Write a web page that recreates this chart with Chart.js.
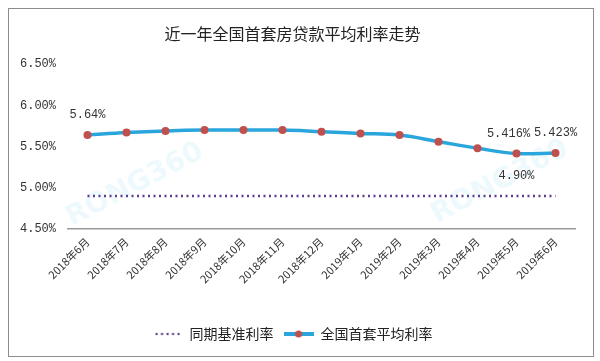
<!DOCTYPE html>
<html>
<head>
<meta charset="utf-8">
<script src="https://cdn.jsdelivr.net/npm/chart.js@4.4.0/dist/chart.umd.min.js"></script>
<style>
  body { margin: 0; background: #fff; }
  #wrap { position: relative; width: 600px; height: 361px; }
  #frame { position: absolute; left: 8px; top: 8px; width: 584px; height: 347px; border: 1px solid #8c8c8c; pointer-events: none; }
</style>
</head>
<body>
<div id="wrap">
  <canvas id="rateChart" width="600" height="361"></canvas>
  <div id="frame"></div>
</div>
<script>
var months = ["2018年6月", "2018年7月", "2018年8月", "2018年9月", "2018年10月", "2018年11月", "2018年12月",
              "2019年1月", "2019年2月", "2019年3月", "2019年4月", "2019年5月", "2019年6月"];
var avgRate = [5.64, 5.67, 5.69, 5.70, 5.70, 5.70, 5.68, 5.66, 5.64, 5.56, 5.48, 5.416, 5.423];
var baseRate = [4.90, 4.90, 4.90, 4.90, 4.90, 4.90, 4.90, 4.90, 4.90, 4.90, 4.90, 4.90, 4.90];
var yTicks = [4.5, 5.0, 5.5, 6.0, 6.5];

// which points get a value label: [dataset index, point index, text]
var valueLabels = [
    [1, 0, "5.64%"],
    [1, 11, "5.416%"],
    [1, 12, "5.423%"],
    [0, 11, "4.90%"]
];

var numFont = "'Liberation Mono', monospace";
var cjkFont = "'Noto Sans CJK SC', sans-serif";

// small legend markers
function makeMarker(kind) {
    var c = document.createElement('canvas');
    c.width = 30; c.height = 10;
    var g = c.getContext('2d');
    if (kind == 'dots') {
        g.fillStyle = '#5a3f8e';
        for (var i = 0; i < 5; i++) {
            g.beginPath();
            g.arc(4 + i * 5.5, 5, 1.2, 0, Math.PI * 2);
            g.fill();
        }
    } else {
        g.strokeStyle = '#2aa6dc';
        g.lineWidth = 4;
        g.beginPath(); g.moveTo(0, 5); g.lineTo(30, 5); g.stroke();
        g.fillStyle = '#c0504d';
        g.beginPath(); g.arc(15, 5, 3.5, 0, Math.PI * 2); g.fill();
    }
    return c;
}
var markers = [makeMarker('dots'), makeMarker('line')];

var extras = {
    id: 'extras',
    beforeDatasetsDraw: function (chart) {
        var ctx = chart.ctx;
        ctx.save();
        ctx.fillStyle = 'rgba(150, 215, 240, 0.16)';
        ctx.font = "bold 28px 'DejaVu Sans', sans-serif";
        ctx.textAlign = 'center';
        ctx.textBaseline = 'middle';
        [[135, 185], [500, 182]].forEach(function (p) {
            ctx.save();
            ctx.translate(p[0], p[1]);
            ctx.rotate(-0.48);
            ctx.fillText("RONG360", 0, 0);
            ctx.restore();
        });
        ctx.restore();
    },
    afterDatasetsDraw: function (chart) {
        var ctx = chart.ctx;
        ctx.save();
        ctx.fillStyle = '#333';
        ctx.font = "12px " + numFont;
        ctx.textAlign = 'center';
        ctx.textBaseline = 'middle';
        valueLabels.forEach(function (v) {
            var pt = chart.getDatasetMeta(v[0]).data[v[1]];
            // the two close labels at the end sit side by side
            var dx = (v[0] == 1 && v[1] == 11) ? -8 : 0;
            ctx.fillText(v[2], pt.x + dx, pt.y - 20);
        });
        ctx.restore();
    }
};

var ctx = document.getElementById('rateChart').getContext('2d');

var rateChart = new Chart(ctx, {
    type: 'line',
    data: {
        labels: months,
        datasets: [{
            label: '同期基准利率',
            data: baseRate,
            borderColor: '#5a3f8e',
            borderWidth: 2.5,
            borderDash: [2, 3.5],
            pointRadius: 0,
            fill: false
        }, {
            label: '全国首套平均利率',
            data: avgRate,
            borderColor: '#2aa6dc',
            borderWidth: 3.5,
            tension: 0.4,
            pointRadius: 4,
            pointBackgroundColor: '#c0504d',
            pointBorderColor: '#c0504d',
            pointBorderWidth: 0,
            fill: false
        }]
    },
    options: {
        responsive: false,
        animation: false,
        layout: { padding: { left: 10, right: 25, top: 0, bottom: 10 } },
        plugins: {
            title: {
                display: true,
                text: '近一年全国首套房贷款平均利率走势',
                color: '#222',
                font: { family: cjkFont, size: 16, weight: 'normal' },
                padding: { top: 24, bottom: 21 }
            },
            legend: {
                position: 'bottom',
                labels: {
                    usePointStyle: true,
                    pointStyleWidth: 30,
                    color: '#222',
                    font: { family: cjkFont, size: 14 },
                    padding: 10,
                    generateLabels: function (chart) {
                        return chart.data.datasets.map(function (ds, i) {
                            return { text: ds.label, pointStyle: markers[i], datasetIndex: i, fontColor: '#222' };
                        });
                    }
                }
            },
            tooltip: { enabled: false }
        },
        scales: {
            x: {
                offset: true,
                grid: { display: false, drawTicks: false },
                border: { display: true, color: '#999', width: 1.5 },
                ticks: {
                    autoSkip: false,
                    maxRotation: 45,
                    minRotation: 45,
                    padding: 6,
                    color: '#333',
                    font: { family: cjkFont, size: 11 }
                },
                afterFit: function (s) { s.height = 88; }
            },
            y: {
                min: 4.5,
                max: 6.5,
                grid: { display: false, drawTicks: false },
                border: { display: false },
                afterBuildTicks: function (s) {
                    s.ticks = yTicks.map(function (v) { return { value: v }; });
                },
                afterFit: function (s) { s.width = 58; },
                ticks: {
                    padding: 12,
                    color: '#333',
                    font: { family: numFont, size: 12 },
                    callback: function (v) { return v.toFixed(2) + '%'; }
                }
            }
        }
    },
    plugins: [extras]
});
</script>
</body>
</html>
